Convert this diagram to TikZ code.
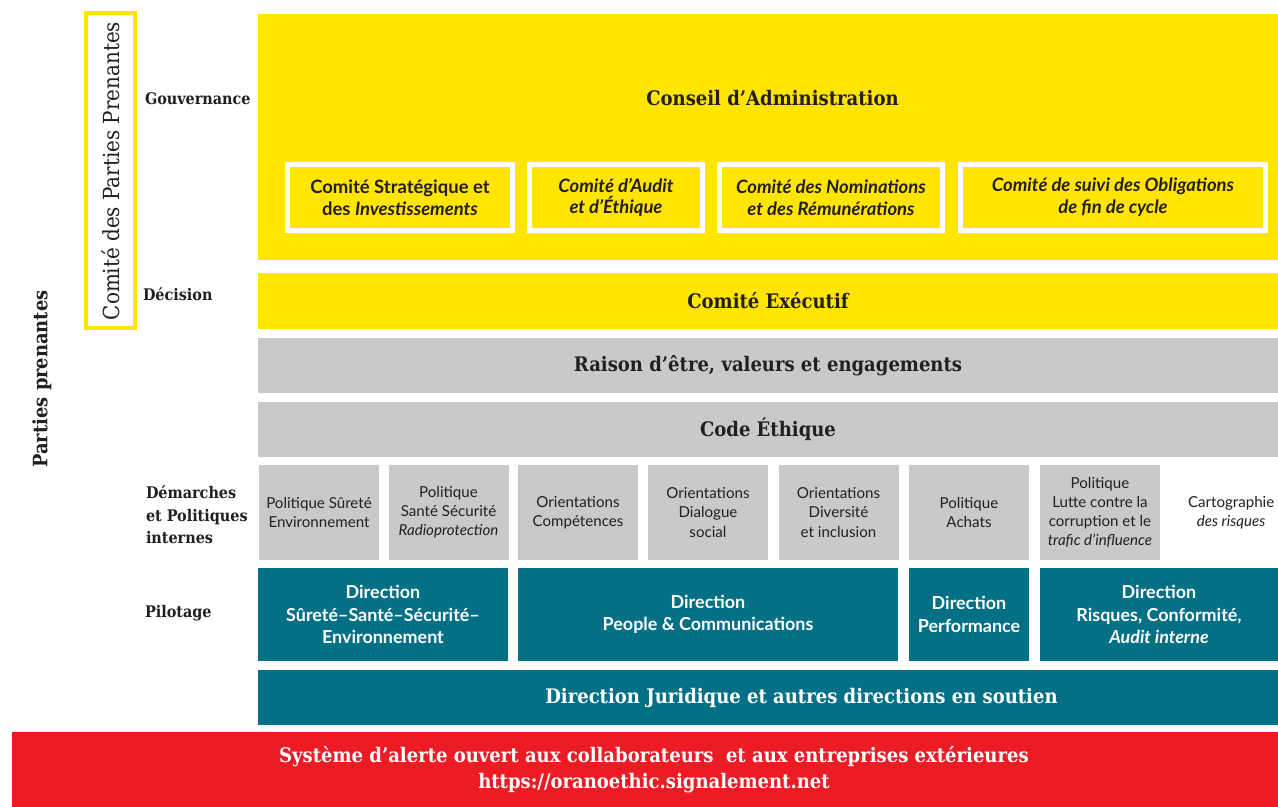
\documentclass[tikz,border=0pt]{standalone}
\usepackage{fontspec}
\setmainfont{Lato}
\newfontfamily\slab{DejaVu Serif Condensed}
\usetikzlibrary{positioning}

\definecolor{oyellow}{HTML}{FFE500}
\definecolor{ogray}{HTML}{C8C9CB}
\definecolor{oteal}{HTML}{037085}
\definecolor{ored}{HTML}{ED1C24}
\definecolor{otext}{HTML}{231F20}

\begin{document}
\begin{tikzpicture}[
    every node/.style={inner sep=0pt, outer sep=0pt, align=center, text=otext},
    band/.style={minimum width=20.4cm, minimum height=1.1cm},
    yband/.style={band, fill=oyellow},
    gband/.style={band, fill=ogray},
    comite/.style={fill=oyellow, draw=white, line width=0.1cm, minimum height=1.32cm,
        font=\fontsize{10.5}{12.5}\selectfont\bfseries},
    politique/.style={fill=ogray, minimum width=2.4cm, minimum height=1.9cm,
        font=\fontsize{8.6}{10.9}\selectfont},
    direction/.style={fill=oteal, minimum height=1.86cm, text=white,
        font=\fontsize{10.2}{12.8}\selectfont\bfseries},
    titre/.style={font=\slab\bfseries\fontsize{11.4}{14}\selectfont},
    niveau/.style={anchor=west, align=left, font=\slab\bfseries\fontsize{9.1}{12.8}\selectfont}
]
    \useasboundingbox (0,0) rectangle (25.56,-16.14);
    \fill[white] (0,0) rectangle (25.56,-16.14);

    % gouvernance
    \node[yband, minimum height=4.92cm] (board) at (15.36,-2.74) {};
    \node[titre] (conseil) at (15.45,-1.96) {Conseil d’Administration};
    \node[comite, minimum width=4.5cm] (strat) at (8.0,-3.95)
        {Comité Stratégique et\\des \textit{Investissements}};
    \node[comite, minimum width=3.46cm] (audit) at (12.32,-3.95)
        {\textit{Comité d'Audit}\\\textit{et d'Éthique}};
    \node[comite, minimum width=4.46cm] (nomin) at (16.62,-3.95)
        {\textit{Comité des Nominations}\\\textit{et des Rémunérations}};
    \node[comite, minimum width=6.1cm] (oblig) at (22.26,-3.95)
        {\textit{Comité de suivi des Obligations}\\\textit{de fin de cycle}};

    \node[yband, minimum height=1.12cm, titre] (comex) at (15.36,-6.02) {Comité Exécutif};
    \node[gband, titre] (raison) at (15.36,-7.31) {Raison d’être, valeurs et engagements};
    \node[gband, titre] (code) at (15.36,-8.59) {Code Éthique};

    % demarches et politiques
    \node[politique] (pse) at (6.38,-10.25) {Politique Sûreté\\Environnement};
    \node[politique] (pss) at (8.97,-10.25) {Politique\\Santé Sécurité\\\textit{Radioprotection}};
    \node[politique] (ocomp) at (11.56,-10.25) {Orientations\\Compétences};
    \node[politique] (odial) at (14.16,-10.25) {Orientations\\Dialogue\\social};
    \node[politique] (odiv) at (16.77,-10.25) {Orientations\\Diversité\\et inclusion};
    \node[politique] (pachat) at (19.38,-10.25) {Politique\\Achats};
    \node[politique] (plutte) at (22.0,-10.25)
        {Politique\\Lutte contre la\\corruption et le\\\textit{trafic d'influence}};
    \node[right=0.56cm of plutte, font=\fontsize{8.6}{10.9}\selectfont] (carto)
        {Cartographie\\\textit{des risques}};

    % pilotage
    \node[direction, minimum width=5.0cm] (dsse) at (7.66,-12.29)
        {Direction\\Sûreté–Santé–Sécurité–\\Environnement};
    \node[direction, minimum width=7.6cm] (dpc) at (14.16,-12.29)
        {Direction\\People \& Communications};
    \node[direction, minimum width=2.4cm] (dperf) at (19.38,-12.29)
        {Direction\\Performance};
    \node[direction, minimum width=4.76cm] (drca) at (23.18,-12.29)
        {Direction\\Risques, Conformité,\\\textit{Audit interne}};

    \node[band, fill=oteal] (djur) at (15.36,-13.95) {};
    \node[titre, text=white] (djurtxt) at (16.03,-13.95)
        {Direction Juridique et autres directions en soutien};

    % alerte
    \node[fill=ored, minimum width=25.32cm, minimum height=1.5cm] (alerte) at (12.9,-15.39) {};
    \node[titre, text=white, font=\slab\bfseries\fontsize{11.4}{14.8}\selectfont] (alertetxt) at (13.08,-15.39)
        {Système d’alerte ouvert aux collaborateurs~ et aux entreprises extérieures\\https://oranoethic.signalement.net};

    % parties prenantes
    \node[draw=oyellow, line width=0.08cm, rotate=90, minimum width=6.3cm, minimum height=0.98cm,
        font=\slab\fontsize{12.6}{14}\selectfont] (cpp) at (2.21,-3.42) {Comité des Parties Prenantes};
    \node[rotate=90, font=\slab\bfseries\fontsize{11.3}{13}\selectfont] (pp) at (0.84,-7.58) {Parties prenantes};

    \node[niveau] (lgouv) at (2.9,-1.98) {Gouvernance};
    \node[niveau] (ldec) at (2.86,-5.88) {Décision};
    \node[niveau] (ldem) at (2.92,-10.3) {Démarches\\et Politiques\\internes};
    \node[niveau] (lpil) at (2.9,-12.26) {Pilotage};
\end{tikzpicture}
\end{document}
